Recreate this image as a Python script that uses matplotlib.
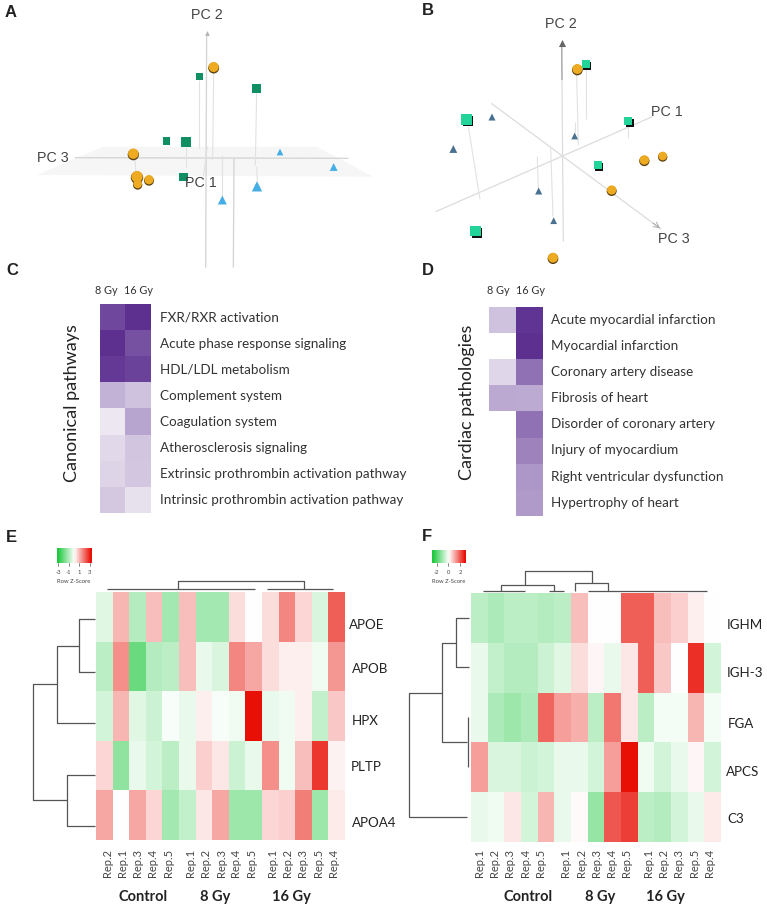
import matplotlib
matplotlib.use('Agg')
import matplotlib.pyplot as plt
import numpy as np
from matplotlib.colors import LinearSegmentedColormap
from matplotlib.patches import Polygon

W, H = 767, 911
plt.rcParams['font.family'] = ['Lato', 'DejaVu Sans']

# PCA panel A, projected positions
a_sphere_x = [641, 400, 413, 411, 447]
a_sphere_y = [202, 462, 553, 531, 540]
a_sphere_s = [62, 66, 45, 80, 52]
a_square_x = [598, 770, 500, 558, 551]
a_square_y = [229, 265, 423, 427, 531]
a_square_s = [26, 45, 28, 50, 38]
a_tri_x = [840, 1001, 771, 667]
a_tri_y = [456, 501, 559, 600]
a_tri_s = [24, 32, 55, 42]
a_plane = [(310, 440), (950, 440), (1120, 530), (110, 525)]
a_axes = [((620, 100), (617, 803)), ((225, 473), (1045, 475)), ((702, 475), (700, 803))]
a_stems = [((598, 240), (598, 445)), ((641, 215), (638, 480)), ((770, 275), (766, 497)),
           ((558, 440), (558, 500)), ((405, 480), (408, 520)), ((665, 465), (665, 590)),
           ((770, 500), (772, 545)), ((622, 440), (610, 530))]

# PCA panel B, projected positions
b_sphere_x = [580, 781, 836, 683, 507]
b_sphere_y = [208, 481, 469, 571, 774]
b_sphere_s = [60, 55, 46, 52, 60]
b_cube_x = [607, 735, 249, 643, 276]
b_cube_y = [195, 365, 361, 498, 695]
b_cube_s = [50, 50, 85, 50, 85]
b_tri_x = [324, 208, 572, 464, 509]
b_tri_y = [351, 447, 408, 573, 662]
b_tri_s = [26, 32, 24, 26, 24]
b_axes = [((155, 635), (805, 350)), ((322, 310), (832, 688)), ((538, 725), (533, 130))]
b_stems = [((605, 205), (605, 358)), ((578, 222), (583, 435)), ((731, 378), (731, 415)),
           ((253, 380), (288, 598)), ((572, 365), (572, 400)), ((460, 470), (463, 565)),
           ((500, 445), (507, 650))]

# panel C
c_labels = ['FXR/RXR activation', 'Acute phase response signaling', 'HDL/LDL metabolism',
            'Complement system', 'Coagulation system', 'Atherosclerosis signaling',
            'Extrinsic prothrombin activation pathway', 'Intrinsic prothrombin activation pathway']
c_8gy = [0.90, 1.00, 0.96, 0.42, 0.08, 0.17, 0.20, 0.28]
c_16gy = [1.00, 0.86, 0.92, 0.32, 0.50, 0.30, 0.29, 0.12]

# panel D
d_labels = ['Acute myocardial infarction', 'Myocardial infarction', 'Coronary artery disease',
            'Fibrosis of heart', 'Disorder of coronary artery', 'Injury of myocardium',
            'Right ventricular dysfunction', 'Hypertrophy of heart']
d_8gy = [0.32, np.nan, 0.18, 0.48, np.nan, np.nan, np.nan, np.nan]
d_16gy = [0.98, 1.00, 0.72, 0.47, 0.72, 0.65, 0.56, 0.55]

# panel E
e_genes = ['APOE', 'APOB', 'HPX', 'PLTP', 'APOA4']
e_reps = ['Rep.2', 'Rep.1', 'Rep.3', 'Rep.4', 'Rep.5', 'Rep.1', 'Rep.2', 'Rep.3', 'Rep.4', 'Rep.5',
          'Rep.1', 'Rep.2', 'Rep.3', 'Rep.5', 'Rep.4']
e_apoe = [-0.4, 0.9, -1.0, 0.8, -1.2, 0.8, -1.2, -1.2, 0.4, 0.0, 0.4, 1.5, 0.5, -0.5, 2.0]
e_apob = [-0.9, 1.4, -2.0, -1.0, -0.9, 0.8, -0.3, -0.5, 1.5, 1.1, 0.4, 0.2, 0.2, -0.2, 1.3]
e_hpx = [-0.6, 0.9, -0.4, -0.7, -0.1, -0.3, 0.2, -0.1, -0.2, 3.0, -0.3, -0.2, 0.2, -0.8, 0.7]
e_pltp = [0.5, -1.5, -0.3, -0.6, -0.9, -0.3, 0.6, 0.3, -0.7, -0.3, 1.4, -0.2, 0.8, 2.5, 0.15]
e_apoa4 = [1.1, 0.0, 1.1, 0.5, -1.2, -0.8, 0.3, 1.1, -1.3, -1.3, 0.5, 0.6, 1.6, -1.3, 0.25]

# panel F
f_genes = ['IGHM', 'IGH-3', 'FGA', 'APCS', 'C3']
f_reps = ['Rep.1', 'Rep.2', 'Rep.3', 'Rep.4', 'Rep.5', 'Rep.1', 'Rep.2', 'Rep.3', 'Rep.4', 'Rep.5',
          'Rep.1', 'Rep.2', 'Rep.3', 'Rep.5', 'Rep.4']
f_ighm = [-0.9, -1.1, -0.9, -0.9, -1.0, -0.9, 0.8, 0.0, 0.0, 2.0, 2.0, 0.8, 0.6, 0.2, 0.0]
f_igh3 = [-0.3, -0.8, -1.0, -1.0, -0.7, -0.4, 0.4, 0.1, -0.3, 0.3, 2.0, 0.7, 0.0, 2.6, -0.6]
f_fga = [-0.3, -1.1, -1.3, -1.1, 1.9, 1.2, 1.0, -0.9, 1.7, 0.3, -0.9, -0.15, -0.15, 0.9, -0.15]
f_apcs = [1.2, -0.5, -0.5, -0.7, -0.6, -0.3, -0.3, -0.6, 1.2, 3.0, -0.2, -0.6, -0.3, 0.1, -0.6]
f_c3 = [-0.3, -0.2, 0.3, -0.6, 0.9, -0.3, 0.05, -1.4, 2.1, 2.4, -0.9, -1.0, -0.6, -0.3, 0.25]

# dendrograms as polylines
e_tree = [[(285, 268), (237, 268), (237, 425), (285, 425)], [(237, 348), (170, 348), (170, 580), (285, 580)],
          [(285, 735), (202, 735), (202, 888), (285, 888)], [(170, 463), (100, 463), (100, 810), (202, 810)],
          [(320, 178), (765, 178)], [(802, 178), (1000, 178)], [(533, 178), (533, 152), (913, 152), (913, 178)]]
f_tree = [[(255, 263), (215, 263), (215, 412), (255, 412)], [(215, 338), (173, 338), (173, 636), (250, 636)],
          [(253, 562), (253, 712)], [(173, 490), (76, 490), (76, 860), (250, 860)],
          [(298, 182), (422, 182)], [(350, 182), (350, 165), (510, 165), (510, 182)], [(495, 182), (540, 182)],
          [(422, 165), (422, 124), (623, 124), (623, 158)], [(574, 182), (574, 158), (671, 158), (671, 182)],
          [(613, 182), (968, 182)]]

purple = LinearSegmentedColormap.from_list('pur', ['#f6f4f8', '#b9a6d0', '#5d3090'])
zmap = LinearSegmentedColormap.from_list('z', ['#20c840', '#ffffff', '#e81005'])

fig = plt.figure(figsize=(W / 100, H / 100), dpi=100)


def panel(x, y, w, h):
    # axes over one part of the figure, units are 1/3 pixel
    ax = fig.add_axes([x / W, 1 - (y + h) / H, w / W, h / H])
    ax.set_xlim(0, w * 3)
    ax.set_ylim(h * 3, 0)
    ax.axis('off')
    return ax


def draw_lines(ax, segs, color, lw):
    for seg in segs:
        xs, ys = zip(*seg)
        ax.plot(xs, ys, color=color, lw=lw, solid_capstyle='butt', zorder=2)


def spheres(ax, x, y, s):
    ax.scatter(x, np.array(y) + 2, s=s, color='#5c4312', lw=0, zorder=4)
    ax.scatter(x, np.array(y) - 1, s=np.array(s) * 0.85, color='#eeaa20', lw=0, zorder=5)


def pc_text(ax, x, y, t):
    ax.text(x, y, t, family='Liberation Sans', fontsize=10.3, color='#444444', ha='center', va='center', zorder=6)


def letter(ax, x, y, t):
    ax.text(x, y, t, family='Liberation Sans', fontweight='bold', fontsize=12, color='#222222', ha='center', va='center')


def pathway(ax, v8, v16, labels, box, xl, xh, title, xt):
    ax.imshow(np.array([v8, v16]).T, cmap=purple, vmin=0, vmax=1, aspect='auto', extent=box, interpolation='nearest')
    ax.set_xlim(0, ax.get_position().width * W * 3)
    ax.set_ylim(780, 0)
    step = (box[2] - box[3]) / 8
    for i, t in enumerate(labels):
        ax.text(xl, box[3] + step * (i + 0.5) - 1, t, fontsize=9.7, color='#333333', va='center')
    ax.text(xh[0], 62, '8 Gy', fontsize=7.8, color='#333333', ha='center', va='center')
    ax.text(xh[1], 62, '16 Gy', fontsize=7.8, color='#333333', ha='center', va='center')
    ax.text(xt, 398, title, fontsize=13, color='#222222', rotation=90, ha='center', va='center')


def heat(ax, rows, box, genes, gene_x, gene_y, reps, rep_x, groups, key, key_ticks, tree):
    ax.imshow(np.array(rows), cmap=zmap, vmin=-3, vmax=3, aspect='auto', extent=box, interpolation='nearest')
    ax.imshow(np.linspace(-3, 3, 16)[None, :], cmap=zmap, vmin=-3, vmax=3, aspect='auto', extent=key)
    ax.set_xlim(0, ax.get_position().width * W * 3)
    ax.set_ylim(1143, 0)
    draw_lines(ax, tree, '#555555', 0.9)
    for g, x, y in zip(genes, gene_x, gene_y):
        ax.text(x, y, g, fontsize=9.6, color='#222222', va='center')
    for r, x in zip(reps, rep_x):
        ax.text(x, 998, r, fontsize=8, color='#444444', rotation=90, ha='center', va='center')
    for g, x in groups:
        ax.text(x, 1100, g, fontsize=10.5, fontweight='bold', color='#222222', ha='center', va='center')
    for t, x in key_ticks:
        ax.plot([x, x], [key[2], key[2] + 7], color='#333333', lw=0.4)
        ax.text(x, key[2] + 28, t, fontsize=4.2, color='#444444', ha='center', va='center')
    ax.text((key[0] + key[1]) / 2, key[2] + 54, 'Row Z-Score', fontsize=4.2, color='#444444', ha='center', va='center')


# A
ax = panel(0, 0, 384, 280)
ax.add_patch(Polygon(a_plane, closed=True, color='#f6f6f6', lw=0, zorder=0))
draw_lines(ax, a_axes, '#d6d6d6', 1.0)
draw_lines(ax, a_stems, '#e2e2e2', 0.8)
ax.scatter([620], [98], marker='^', s=12, color='#b5b5b5', lw=0, zorder=3)
spheres(ax, a_sphere_x, a_sphere_y, a_sphere_s)
ax.scatter(a_square_x, a_square_y, marker='s', s=a_square_s, color='#0f8f62', lw=0, zorder=5)
ax.scatter(a_tri_x, a_tri_y, marker='^', s=a_tri_s, color='#46aee6', lw=0, zorder=5)
pc_text(ax, 620, 45, 'PC 2')
pc_text(ax, 160, 473, 'PC 3')
pc_text(ax, 603, 548, 'PC 1')
letter(ax, 33, 37, 'A')
letter(ax, 36, 812, 'C')

# B
ax = panel(384, 0, 383, 280)
draw_lines(ax, b_axes, '#dcdcdc', 0.9)
draw_lines(ax, b_stems, '#e2e2e2', 0.8)
draw_lines(ax, [((534, 240), (533, 130))], '#aaaaaa', 1.0)
ax.scatter([533], [128], marker='^', s=26, color='#666666', lw=0, zorder=3)
ax.annotate('', xy=(835, 690), xytext=(800, 664), arrowprops=dict(arrowstyle='->', color='#aaaaaa', lw=0.7))
spheres(ax, b_sphere_x, b_sphere_y, b_sphere_s)
ax.scatter(np.array(b_cube_x) + 3, np.array(b_cube_y) + 3, marker='s', s=np.array(b_cube_s) * 0.62, color='#111111', lw=0, zorder=4)
ax.scatter(np.array(b_cube_x) - 2, np.array(b_cube_y) - 2, marker='s', s=np.array(b_cube_s) * 0.7, color='#22d39a', lw=0, zorder=5)
ax.scatter(b_tri_x, b_tri_y, marker='^', s=b_tri_s, color='#4a7290', lw=0, zorder=5)
pc_text(ax, 530, 72, 'PC 2')
pc_text(ax, 850, 335, 'PC 1')
pc_text(ax, 870, 718, 'PC 3')
letter(ax, 132, 32, 'B')
letter(ax, 132, 812, 'D')

# C, D
ax = panel(0, 270, 384, 260)
pathway(ax, c_8gy, c_16gy, c_labels, (301, 454, 730, 105), 481, (318, 414), 'Canonical pathways', 217)
ax = panel(384, 270, 383, 260)
pathway(ax, d_8gy, d_16gy, d_labels, (316, 477, 738, 112), 501, (344, 440), 'Cardiac pathologies', 250)

# E
ax = panel(0, 530, 384, 381)
heat(ax, [e_apoe, e_apob, e_hpx, e_pltp, e_apoa4], (289, 1036, 930, 187), e_genes,
     [1047, 1055, 1055, 1053, 1055], [285, 418, 572, 710, 880], e_reps,
     [323, 368, 414, 458, 505, 572, 618, 663, 708, 755, 818, 863, 908, 955, 1000],
     [('Control', 430), ('8 Gy', 646), ('16 Gy', 873)], (170, 274, 100, 55),
     [('-3', 175), ('-1', 206), ('1', 238), ('3', 269)], e_tree)
letter(ax, 33, 22, 'E')

# F
ax = panel(384, 530, 383, 381)
heat(ax, [f_ighm, f_igh3, f_fga, f_apcs, f_c3], (262, 1010, 935, 188), f_genes,
     [1028, 1027, 1032, 1027, 1030], [285, 428, 582, 727, 868], f_reps,
     [287, 332, 377, 424, 470, 545, 591, 637, 683, 728, 794, 838, 884, 930, 976],
     [('Control', 433), ('8 Gy', 650), ('16 Gy', 845)], (143, 243, 100, 63),
     [('-2', 158), ('0', 193), ('2', 228)], f_tree)
letter(ax, 128, 20, 'F')

fig.savefig('out.png', dpi=100)
